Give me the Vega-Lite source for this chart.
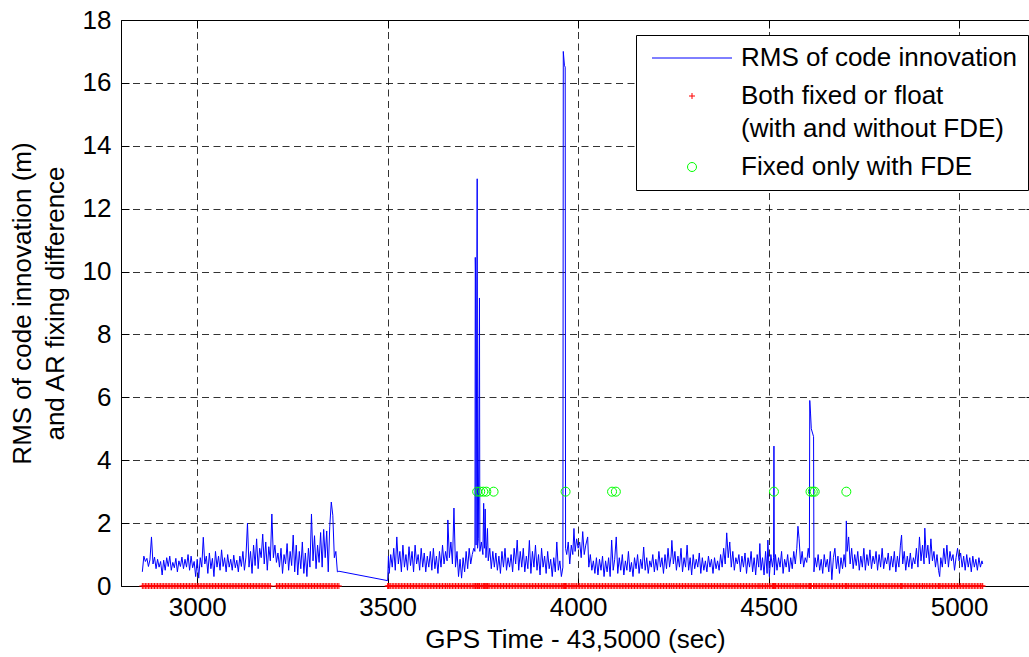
{
  "$schema": "https://vega.github.io/schema/vega-lite/v6.json",
  "width": 908,
  "height": 566,
  "autosize": {"type": "none"},
  "padding": {"left": 121, "top": 20, "right": 0, "bottom": 71},
  "background": "white",
  "config": {
    "view": {"stroke": null},
    "font": "Liberation Sans",
    "axis": {
      "labelFont": "Liberation Sans", "labelFontSize": 26, "labelColor": "#000",
      "titleFont": "Liberation Sans", "titleFontSize": 26, "titleColor": "#000", "titleFontWeight": "normal",
      "domainColor": "#000", "domainWidth": 1, "tickColor": "#000", "tickWidth": 1, "tickSize": -8,
      "gridColor": "#000", "gridOpacity": 0.8, "gridDash": [7, 4.5], "gridWidth": 1
    },
    "style": {"guide-label": {"lineHeight": 33}}
  },
  "datasets": {
    "rms": [
      {"t":2856,"v":0.45},{"t":2860,"v":0.95},{"t":2864,"v":0.78},{"t":2868,"v":0.88},{"t":2872,"v":0.62},{"t":2876,"v":0.83},{"t":2880,"v":1.56},{"t":2884,"v":0.7},{"t":2888,"v":0.92},{"t":2892,"v":0.55},{"t":2896,"v":0.85},{"t":2900,"v":0.6},{"t":2904,"v":0.78},{"t":2908,"v":0.35},{"t":2912,"v":0.82},{"t":2916,"v":0.5},{"t":2920,"v":0.9},{"t":2924,"v":0.62},{"t":2928,"v":0.95},{"t":2932,"v":0.5},{"t":2936,"v":0.75},{"t":2940,"v":0.58},{"t":2944,"v":0.88},{"t":2948,"v":0.45},{"t":2952,"v":0.8},{"t":2956,"v":0.62},{"t":2960,"v":0.92},{"t":2964,"v":0.55},{"t":2968,"v":0.85},{"t":2972,"v":0.6},{"t":2976,"v":1.0},{"t":2980,"v":0.5},{"t":2984,"v":0.95},{"t":2988,"v":0.58},{"t":2992,"v":0.78},{"t":2996,"v":0.3},
      {"t":3000,"v":0.85},{"t":3004,"v":0.25},{"t":3008,"v":0.9},{"t":3012,"v":0.6},{"t":3016,"v":1.55},{"t":3020,"v":0.7},{"t":3024,"v":0.95},{"t":3028,"v":0.4},{"t":3032,"v":1.05},{"t":3036,"v":0.55},{"t":3040,"v":0.88},{"t":3044,"v":0.3},{"t":3048,"v":1.1},{"t":3052,"v":0.6},{"t":3056,"v":0.95},{"t":3060,"v":0.5},{"t":3064,"v":1.15},{"t":3068,"v":0.62},{"t":3072,"v":0.9},{"t":3076,"v":0.45},{"t":3080,"v":1.0},{"t":3084,"v":0.6},{"t":3088,"v":0.85},{"t":3092,"v":0.5},{"t":3096,"v":0.98},{"t":3100,"v":0.58},{"t":3104,"v":0.82},{"t":3108,"v":0.45},{"t":3112,"v":0.95},{"t":3116,"v":0.62},{"t":3120,"v":1.1},{"t":3124,"v":0.5},{"t":3128,"v":0.92},{"t":3132,"v":2.0},{"t":3136,"v":0.6},{"t":3140,"v":1.1},{"t":3144,"v":0.4},{"t":3148,"v":1.3},{"t":3152,"v":0.65},{"t":3156,"v":1.5},{"t":3160,"v":0.55},{"t":3164,"v":1.2},{"t":3168,"v":0.9},{"t":3172,"v":1.65},{"t":3176,"v":0.7},{"t":3180,"v":1.4},{"t":3184,"v":0.5},{"t":3188,"v":1.25},{"t":3192,"v":0.8},{"t":3196,"v":2.29},{"t":3200,"v":0.9},{"t":3204,"v":1.3},{"t":3208,"v":0.75},{"t":3212,"v":1.05},{"t":3216,"v":0.6},{"t":3220,"v":1.2},{"t":3224,"v":0.4},{"t":3228,"v":1.0},{"t":3232,"v":0.7},{"t":3236,"v":1.35},{"t":3240,"v":0.5},{"t":3244,"v":1.1},{"t":3248,"v":0.65},{"t":3252,"v":1.62},{"t":3256,"v":0.45},{"t":3260,"v":1.3},{"t":3264,"v":0.35},{"t":3268,"v":1.1},{"t":3272,"v":0.55},{"t":3276,"v":1.4},{"t":3280,"v":0.4},{"t":3284,"v":1.05},{"t":3288,"v":0.3},{"t":3292,"v":1.2},{"t":3296,"v":0.6},{"t":3300,"v":2.29},{"t":3304,"v":0.8},{"t":3308,"v":1.6},{"t":3312,"v":0.55},{"t":3316,"v":1.3},{"t":3320,"v":0.75},{"t":3324,"v":1.7},{"t":3328,"v":0.6},{"t":3332,"v":1.8},{"t":3336,"v":0.9},{"t":3340,"v":1.75},{"t":3344,"v":0.45},{"t":3348,"v":1.9},{"t":3352,"v":2.67},{"t":3356,"v":2.25},{"t":3360,"v":0.9},{"t":3364,"v":1.1},{"t":3368,"v":0.45},{"t":3372,"v":0.47},
      {"t":3500,"v":0.17},{"t":3502,"v":0.95},{"t":3504,"v":0.4},{"t":3508,"v":1.0},{"t":3512,"v":0.6},{"t":3516,"v":1.2},{"t":3520,"v":0.5},{"t":3524,"v":1.56},{"t":3528,"v":0.7},{"t":3532,"v":1.1},{"t":3536,"v":0.45},{"t":3540,"v":1.3},{"t":3544,"v":0.6},{"t":3548,"v":1.0},{"t":3552,"v":0.5},{"t":3556,"v":1.25},{"t":3560,"v":0.65},{"t":3564,"v":1.1},{"t":3568,"v":0.45},{"t":3572,"v":1.3},{"t":3576,"v":0.7},{"t":3580,"v":1.0},{"t":3584,"v":0.5},{"t":3588,"v":1.2},{"t":3592,"v":0.6},{"t":3596,"v":1.05},{"t":3600,"v":0.45},{"t":3604,"v":0.95},{"t":3608,"v":0.6},{"t":3612,"v":1.1},{"t":3616,"v":0.5},{"t":3620,"v":1.2},{"t":3624,"v":0.55},{"t":3628,"v":0.95},{"t":3632,"v":0.4},{"t":3636,"v":1.1},{"t":3640,"v":0.6},{"t":3644,"v":1.3},{"t":3648,"v":0.7},{"t":3652,"v":1.1},{"t":3656,"v":0.8},{"t":3658,"v":2.1},{"t":3662,"v":0.9},{"t":3666,"v":1.4},{"t":3670,"v":0.7},{"t":3674,"v":2.48},{"t":3678,"v":0.6},{"t":3682,"v":1.1},{"t":3686,"v":0.3},{"t":3690,"v":0.85},{"t":3694,"v":0.25},{"t":3698,"v":0.9},{"t":3702,"v":0.45},{"t":3706,"v":1.1},{"t":3710,"v":0.55},{"t":3714,"v":1.2},{"t":3718,"v":0.7},{"t":3722,"v":1.0},{"t":3726,"v":1.2},{"t":3729,"v":1.1},{"t":3730,"v":10.45},{"t":3731,"v":9.7},{"t":3732,"v":1.3},{"t":3735,"v":12.95},{"t":3736,"v":1.2},{"t":3738,"v":1.5},{"t":3741,"v":9.16},{"t":3742,"v":1.1},{"t":3746,"v":1.4},{"t":3750,"v":1.0},{"t":3752,"v":2.63},{"t":3754,"v":1.2},{"t":3756,"v":2.45},{"t":3758,"v":0.9},{"t":3760,"v":1.3},{"t":3762,"v":1.83},{"t":3764,"v":0.8},{"t":3768,"v":1.2},{"t":3772,"v":0.55},{"t":3776,"v":1.1},{"t":3780,"v":0.6},{"t":3784,"v":1.05},{"t":3788,"v":0.5},{"t":3792,"v":0.95},{"t":3796,"v":0.4},{"t":3800,"v":1.1},{"t":3804,"v":0.6},{"t":3808,"v":1.2},{"t":3812,"v":0.5},{"t":3816,"v":0.9},{"t":3820,"v":0.6},{"t":3824,"v":1.0},{"t":3828,"v":0.45},{"t":3832,"v":1.2},{"t":3836,"v":0.7},{"t":3840,"v":1.46},{"t":3844,"v":0.5},{"t":3848,"v":1.1},{"t":3852,"v":0.6},{"t":3856,"v":1.2},{"t":3860,"v":0.45},{"t":3864,"v":0.95},{"t":3868,"v":0.55},{"t":3872,"v":1.45},{"t":3876,"v":0.4},{"t":3880,"v":1.1},{"t":3884,"v":0.6},{"t":3888,"v":1.3},{"t":3892,"v":0.5},{"t":3896,"v":1.0},{"t":3900,"v":0.35},{"t":3904,"v":1.2},{"t":3908,"v":0.6},{"t":3912,"v":0.95},{"t":3916,"v":0.4},{"t":3920,"v":1.1},{"t":3924,"v":0.55},{"t":3928,"v":0.85},{"t":3932,"v":0.3},{"t":3936,"v":0.9},{"t":3940,"v":0.45},{"t":3944,"v":1.4},{"t":3948,"v":0.5},{"t":3952,"v":0.8},{"t":3956,"v":0.3},{"t":3960,"v":0.6},{"t":3961,"v":17.0},{"t":3964,"v":16.56},{"t":3966,"v":16.5},{"t":3967,"v":1.2},{"t":3970,"v":1.0},{"t":3974,"v":1.4},{"t":3978,"v":0.7},{"t":3982,"v":1.3},{"t":3986,"v":1.0},{"t":3989,"v":1.83},{"t":3992,"v":1.1},{"t":3996,"v":1.5},
      {"t":4000,"v":1.2},{"t":4004,"v":1.4},{"t":4008,"v":0.9},{"t":4012,"v":1.73},{"t":4016,"v":1.0},{"t":4020,"v":1.3},{"t":4025,"v":1.56},{"t":4028,"v":0.6},{"t":4032,"v":1.0},{"t":4036,"v":0.5},{"t":4040,"v":0.8},{"t":4044,"v":0.4},{"t":4048,"v":0.9},{"t":4052,"v":0.35},{"t":4056,"v":0.85},{"t":4060,"v":0.5},{"t":4064,"v":0.95},{"t":4068,"v":0.3},{"t":4072,"v":0.8},{"t":4076,"v":0.45},{"t":4080,"v":0.9},{"t":4084,"v":0.3},{"t":4088,"v":1.46},{"t":4092,"v":0.5},{"t":4096,"v":0.85},{"t":4100,"v":1.56},{"t":4104,"v":0.4},{"t":4108,"v":0.9},{"t":4112,"v":0.5},{"t":4116,"v":1.0},{"t":4120,"v":0.35},{"t":4124,"v":0.8},{"t":4128,"v":0.5},{"t":4132,"v":1.1},{"t":4136,"v":0.45},{"t":4140,"v":0.75},{"t":4144,"v":0.3},{"t":4148,"v":0.9},{"t":4152,"v":0.55},{"t":4156,"v":1.0},{"t":4160,"v":0.4},{"t":4164,"v":0.85},{"t":4168,"v":0.55},{"t":4172,"v":1.24},{"t":4176,"v":0.5},{"t":4180,"v":0.9},{"t":4184,"v":0.4},{"t":4188,"v":0.8},{"t":4192,"v":0.6},{"t":4196,"v":1.0},{"t":4200,"v":0.45},{"t":4204,"v":0.85},{"t":4208,"v":0.5},{"t":4212,"v":1.1},{"t":4216,"v":0.6},{"t":4220,"v":0.9},{"t":4224,"v":0.4},{"t":4228,"v":1.0},{"t":4232,"v":0.55},{"t":4236,"v":1.2},{"t":4240,"v":0.6},{"t":4244,"v":0.95},{"t":4246,"v":1.45},{"t":4250,"v":0.7},{"t":4254,"v":1.1},{"t":4258,"v":0.5},{"t":4262,"v":0.95},{"t":4266,"v":0.6},{"t":4270,"v":1.2},{"t":4274,"v":0.45},{"t":4278,"v":0.9},{"t":4282,"v":0.6},{"t":4286,"v":1.3},{"t":4290,"v":0.5},{"t":4294,"v":0.9},{"t":4298,"v":0.35},{"t":4302,"v":1.0},{"t":4306,"v":0.55},{"t":4310,"v":0.85},{"t":4314,"v":0.6},{"t":4318,"v":1.05},{"t":4322,"v":0.4},{"t":4326,"v":0.9},{"t":4330,"v":0.5},{"t":4334,"v":0.8},{"t":4338,"v":0.45},{"t":4342,"v":0.95},{"t":4346,"v":0.6},{"t":4350,"v":0.85},{"t":4354,"v":0.4},{"t":4358,"v":0.9},{"t":4362,"v":0.55},{"t":4366,"v":0.8},{"t":4370,"v":0.5},{"t":4374,"v":1.0},{"t":4378,"v":0.6},{"t":4382,"v":1.2},{"t":4386,"v":0.7},{"t":4390,"v":1.69},{"t":4394,"v":0.9},{"t":4398,"v":1.4},{"t":4402,"v":0.6},{"t":4406,"v":1.1},{"t":4410,"v":0.5},{"t":4414,"v":0.9},{"t":4418,"v":0.7},{"t":4422,"v":1.0},{"t":4426,"v":0.45},{"t":4430,"v":0.95},{"t":4434,"v":0.6},{"t":4438,"v":1.05},{"t":4442,"v":0.4},{"t":4446,"v":0.9},{"t":4450,"v":0.6},{"t":4454,"v":1.1},{"t":4458,"v":0.45},{"t":4462,"v":0.9},{"t":4466,"v":0.35},{"t":4470,"v":1.0},{"t":4474,"v":0.6},{"t":4477,"v":1.35},{"t":4480,"v":0.5},{"t":4484,"v":0.9},{"t":4488,"v":0.35},{"t":4492,"v":1.1},{"t":4496,"v":0.4},{"t":4498,"v":1.46},{"t":4502,"v":0.3},{"t":4506,"v":1.0},{"t":4510,"v":0.6},{"t":4513,"v":0.9},{"t":4514,"v":4.45},{"t":4515,"v":0.35},{"t":4518,"v":1.0},{"t":4522,"v":0.5},{"t":4526,"v":0.9},{"t":4530,"v":0.6},{"t":4534,"v":1.1},{"t":4538,"v":0.4},{"t":4542,"v":0.85},{"t":4546,"v":0.6},{"t":4550,"v":1.0},{"t":4554,"v":0.45},{"t":4558,"v":0.9},{"t":4562,"v":0.55},{"t":4566,"v":1.1},{"t":4570,"v":0.7},{"t":4574,"v":1.2},{"t":4577,"v":1.9},{"t":4580,"v":1.5},{"t":4584,"v":0.7},{"t":4588,"v":1.1},{"t":4592,"v":0.6},{"t":4596,"v":0.9},{"t":4600,"v":0.75},{"t":4604,"v":1.2},{"t":4607,"v":0.9},{"t":4608,"v":5.9},{"t":4610,"v":5.5},{"t":4612,"v":5.0},{"t":4618,"v":4.75},{"t":4619,"v":0.45},{"t":4622,"v":0.9},{"t":4626,"v":0.6},{"t":4630,"v":1.0},{"t":4634,"v":0.5},{"t":4638,"v":0.85},{"t":4642,"v":0.4},{"t":4646,"v":1.0},{"t":4650,"v":0.6},{"t":4654,"v":0.85},{"t":4658,"v":0.45},{"t":4662,"v":1.1},{"t":4666,"v":0.2},{"t":4670,"v":0.9},{"t":4674,"v":1.2},{"t":4678,"v":0.55},{"t":4682,"v":0.95},{"t":4686,"v":0.4},{"t":4690,"v":0.9},{"t":4694,"v":0.55},{"t":4698,"v":1.0},{"t":4702,"v":0.6},{"t":4704,"v":2.07},{"t":4706,"v":1.1},{"t":4710,"v":1.56},{"t":4714,"v":0.7},{"t":4718,"v":1.2},{"t":4722,"v":0.55},{"t":4726,"v":1.0},{"t":4730,"v":0.65},{"t":4734,"v":1.1},{"t":4738,"v":0.5},{"t":4742,"v":0.95},{"t":4746,"v":0.6},{"t":4750,"v":1.2},{"t":4754,"v":0.5},{"t":4758,"v":1.0},{"t":4762,"v":0.65},{"t":4766,"v":1.15},{"t":4770,"v":0.55},{"t":4774,"v":0.95},{"t":4778,"v":0.7},{"t":4782,"v":1.1},{"t":4786,"v":0.5},{"t":4790,"v":1.0},{"t":4794,"v":0.6},{"t":4798,"v":1.2},{"t":4802,"v":0.55},{"t":4806,"v":0.9},{"t":4810,"v":0.7},{"t":4814,"v":1.05},{"t":4818,"v":0.5},{"t":4822,"v":0.95},{"t":4826,"v":0.6},{"t":4830,"v":1.1},{"t":4834,"v":0.45},{"t":4838,"v":0.95},{"t":4842,"v":0.6},{"t":4846,"v":1.3},{"t":4849,"v":1.62},{"t":4852,"v":0.7},{"t":4856,"v":1.1},{"t":4860,"v":0.5},{"t":4864,"v":0.95},{"t":4868,"v":0.6},{"t":4872,"v":1.05},{"t":4876,"v":0.55},{"t":4880,"v":0.9},{"t":4884,"v":0.7},{"t":4888,"v":1.2},{"t":4892,"v":0.6},{"t":4896,"v":1.56},{"t":4900,"v":0.8},{"t":4904,"v":1.3},{"t":4908,"v":0.7},{"t":4910,"v":1.84},{"t":4914,"v":0.9},{"t":4918,"v":1.3},{"t":4922,"v":0.7},{"t":4926,"v":1.5},{"t":4930,"v":0.8},{"t":4934,"v":1.1},{"t":4938,"v":0.6},{"t":4942,"v":1.0},{"t":4946,"v":0.5},{"t":4949,"v":0.3},{"t":4952,"v":0.9},{"t":4956,"v":0.6},{"t":4960,"v":1.2},{"t":4964,"v":0.7},{"t":4968,"v":1.3},{"t":4972,"v":0.6},{"t":4976,"v":1.1},{"t":4980,"v":0.8},{"t":4984,"v":1.0},{"t":4988,"v":0.5},{"t":4992,"v":0.9},{"t":4996,"v":1.2},
      {"t":5000,"v":0.8},{"t":5004,"v":1.05},{"t":5008,"v":0.6},{"t":5012,"v":0.95},{"t":5016,"v":0.5},{"t":5020,"v":1.0},{"t":5024,"v":0.6},{"t":5028,"v":0.9},{"t":5032,"v":0.45},{"t":5036,"v":0.95},{"t":5040,"v":0.6},{"t":5044,"v":0.85},{"t":5048,"v":0.5},{"t":5052,"v":0.9},{"t":5056,"v":0.6},{"t":5060,"v":0.8},{"t":5062,"v":0.7}
    ],
    "fde": [
      {"t":3735,"v":3},{"t":3743,"v":3},{"t":3751,"v":3},{"t":3759,"v":3},{"t":3778,"v":3},{"t":3967,"v":3},{"t":4089,"v":3},{"t":4099,"v":3},{"t":4514,"v":3},{"t":4610,"v":3},{"t":4616,"v":3},{"t":4621,"v":3},{"t":4704,"v":3}
    ]
  },
  "resolve": {"axis": {"x": "independent", "y": "independent"}},
  "layer": [
    {
      "data": {"name": "rms"},
      "mark": {"type": "line", "strokeWidth": 1},
      "encoding": {
        "x": {"field": "t", "type": "quantitative",
          "scale": {"domain": [2800, 5183.5], "nice": false, "zero": false},
          "axis": {"orient": "bottom", "values": [3000, 3500, 4000, 4500, 5000], "format": "d", "grid": true, "labelPadding": 16, "title": "GPS Time - 43,5000 (sec)", "titlePadding": 6}},
        "y": {"field": "v", "type": "quantitative",
          "scale": {"domain": [0, 18], "nice": false},
          "axis": {"orient": "left", "values": [0, 2, 4, 6, 8, 10, 12, 14, 16, 18], "format": "d", "grid": true, "labelPadding": 18,
            "title": ["RMS of code innovation (m)", "and AR fixing difference"], "titleLineHeight": 33, "titlePadding": 14}},
        "color": {"datum": "RMS of code innovation", "type": "nominal",
          "scale": {"domain": ["RMS of code innovation", "Both fixed or float", "Fixed only with FDE"], "range": ["#0000ff", "#ff0000", "#00ff00"]},
          "legend": {
            "title": null, "orient": "none", "legendX": 515, "legendY": 15,
            "strokeColor": "#000", "fillColor": "#fff", "padding": 10,
            "labelFont": "Liberation Sans", "labelFontSize": 26, "labelColor": "#000", "labelLimit": 600,
            "symbolOffset": 33, "labelOffset": 36, "rowPadding": 12, "symbolStrokeWidth": 1,
            "symbolStrokeColor": "#0000ff", "symbolFillColor": "transparent",
            "labelExpr": "datum.label == 'Both fixed or float' ? ['Both fixed or float', '(with and without FDE)'] : datum.label",
            "encode": {"symbols": {"update": {
              "shape": {"signal": "datum.value == 'RMS of code innovation' ? 'stroke' : datum.value == 'Both fixed or float' ? 'M-1,0H1M0,-1V1' : 'circle'"},
              "size": {"signal": "datum.value == 'RMS of code innovation' ? 6400 : datum.value == 'Both fixed or float' ? 36 : 81"},
              "stroke": {"signal": "datum.value == 'RMS of code innovation' ? '#0000ff' : datum.value == 'Both fixed or float' ? '#ff0000' : '#00ff00'"},
              "fill": {"value": "transparent"},
              "strokeWidth": {"value": 1},
              "opacity": {"value": 1}
            }}}
          }}
      }
    },
    {
      "data": {"name": "rms"},
      "transform": [{"filter": "datum.t < 3194 || datum.t > 3206"}],
      "mark": {"type": "point", "filled": false, "strokeWidth": 1, "color": "#ff0000", "opacity": 1, "shape": "M-1,0H1M0,-1V1", "size": 36},
      "encoding": {
        "x": {"field": "t", "type": "quantitative",
          "axis": {"orient": "top", "values": [3000, 3500, 4000, 4500, 5000], "labels": false, "grid": false, "title": null}},
        "y": {"datum": 0, "type": "quantitative",
          "axis": {"orient": "right", "values": [0, 2, 4, 6, 8, 10, 12, 14, 16, 18], "labels": false, "grid": false, "domain": false, "tickSize": -3, "title": null}}
      }
    },
    {
      "data": {"name": "fde"},
      "mark": {"type": "point", "filled": false, "strokeWidth": 1, "color": "#00ff00", "opacity": 1, "shape": "circle", "size": 81},
      "encoding": {
        "x": {"field": "t", "type": "quantitative", "axis": null},
        "y": {"field": "v", "type": "quantitative", "axis": null}
      }
    }
  ]
}
